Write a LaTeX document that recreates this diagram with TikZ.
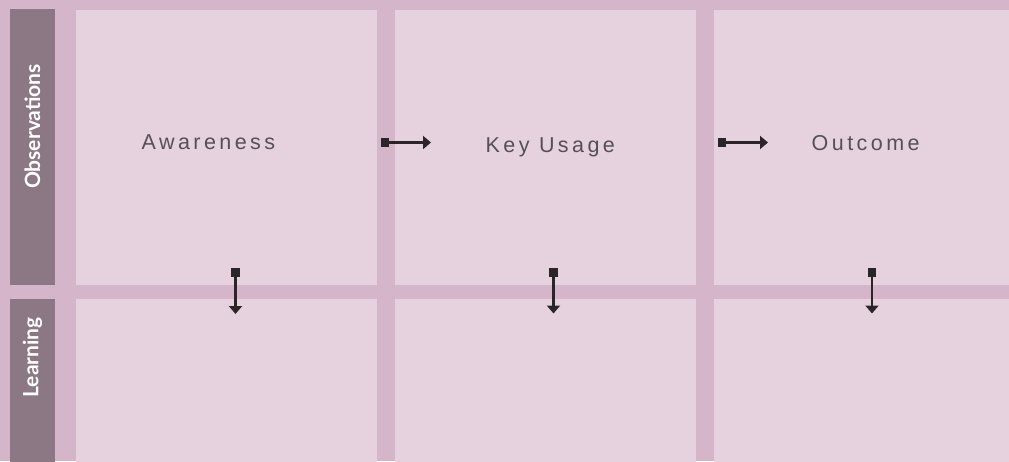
\documentclass[tikz,border=0pt]{standalone}
\usepackage{fontspec}
\usetikzlibrary{arrows.meta}
\newfontfamily\latofont{Lato}
\newfontfamily\spacedfont[LetterSpace=16]{Liberation Sans}
\definecolor{bgcol}{HTML}{D5B5CA}
\definecolor{panelcol}{HTML}{E6D2DE}
\definecolor{barcol}{HTML}{8C7885}
\definecolor{txtcol}{HTML}{555055}
\definecolor{arrcol}{HTML}{2A2628}
\begin{document}
\begin{tikzpicture}[x=1pt,y=-1pt,
  panel/.style={fill=panelcol,draw=none},
  sidebar/.style={fill=barcol,draw=none},
  sidelabel/.style={text=white,font=\latofont\bfseries\fontsize{21}{24}\selectfont,rotate=90,inner sep=0pt},
  stagelabel/.style={text=txtcol,font=\spacedfont\fontsize{21.5}{24}\selectfont,inner sep=0pt,anchor=base west},
  sq/.style={fill=arrcol,draw=none,minimum size=8.5pt,inner sep=0pt},
  conn/.style={draw=arrcol,line width=2.6pt,-{Triangle[width=13pt,length=8pt]}}
]
\useasboundingbox (0,0) rectangle (1009,461);
\fill[bgcol] (0,0) rectangle (1009,461);
% side bars
\fill[sidebar] (10,9) rectangle (55,285);
\fill[sidebar] (10,299) rectangle (55,470);
\node[sidelabel] (obs) at (32.5,126.5) {Observations};
\node[sidelabel] (learn) at (32.5,357.5) {Learning};
% panels
\fill[panel] (76,10) rectangle (377,285);
\fill[panel] (395,10) rectangle (696,285);
\fill[panel] (714,10) rectangle (1015,285);
\fill[panel] (76,299) rectangle (377,470);
\fill[panel] (395,299) rectangle (696,470);
\fill[panel] (714,299) rectangle (1015,470);
% stage labels
\node[stagelabel] (aw) at (141.5,149.5) {Awareness};
\node[stagelabel] (ku) at (485.5,152.3) {Key Usage};
\node[stagelabel] (oc) at (811.5,150) {Outcome};
% horizontal connectors
\node[sq] (s1) at (385,142.5) {};
\coordinate (t1) at (431,142.5);
\draw[conn] (s1.center) -- (t1);
\node[sq] (s2) at (722,142.5) {};
\coordinate (t2) at (768,142.5);
\draw[conn] (s2.center) -- (t2);
% vertical connectors
\node[sq] (v1) at (235.5,272.5) {};
\coordinate (u1) at (235.5,314);
\draw[conn] (v1.center) -- (u1);
\node[sq] (v2) at (553.5,272.5) {};
\coordinate (u2) at (553.5,313.5);
\draw[conn] (v2.center) -- (u2);
\node[sq] (v3) at (872,272.5) {};
\coordinate (u3) at (872,313.5);
\draw[conn] (v3.center) -- (u3);
\end{tikzpicture}
\end{document}
